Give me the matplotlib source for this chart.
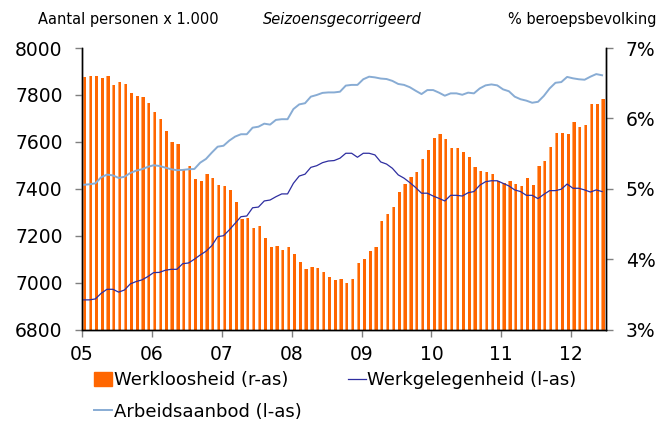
import numpy as np
import matplotlib
matplotlib.use("Agg")
import matplotlib.pyplot as plt
from matplotlib.patches import Patch
from matplotlib.lines import Line2D

# Monthly data, Jan 2005 - Jun 2012
year_labels = ['05', '06', '07', '08', '09', '10', '11', '12']

werkloosheid = [  # % beroepsbevolking (right axis)
    6.59, 6.60, 6.60, 6.58, 6.60, 6.48, 6.52, 6.49, 6.36, 6.32, 6.31, 6.22,
    6.09, 5.99, 5.82, 5.67, 5.64, 5.28, 5.32, 5.14, 5.11, 5.21, 5.16, 5.05,
    5.04, 4.99, 4.81, 4.57, 4.59, 4.44, 4.47, 4.30, 4.17, 4.19, 4.13, 4.17,
    4.08, 3.97, 3.87, 3.90, 3.88, 3.82, 3.75, 3.71, 3.72, 3.67, 3.72, 3.95,
    4.01, 4.12, 4.17, 4.55, 4.65, 4.74, 4.96, 5.07, 5.17, 5.24, 5.43, 5.56,
    5.73, 5.78, 5.71, 5.58, 5.58, 5.52, 5.46, 5.31, 5.26, 5.24, 5.21, 5.12,
    5.09, 5.12, 5.07, 5.04, 5.15, 5.05, 5.32, 5.40, 5.59, 5.79, 5.79, 5.78,
    5.95, 5.88, 5.91, 6.21, 6.20, 6.28,
]

werkgelegenheid = [  # x 1.000 personen (left axis)
    6928, 6928, 6932, 6956, 6973, 6973, 6961, 6970, 6996, 7006, 7013, 7027,
    7044, 7045, 7054, 7058, 7058, 7082, 7085, 7101, 7119, 7135, 7159, 7197,
    7201, 7226, 7254, 7282, 7285, 7320, 7323, 7349, 7353, 7367, 7379, 7379,
    7424, 7455, 7463, 7492, 7499, 7512, 7519, 7521, 7531, 7552, 7552, 7535,
    7552, 7552, 7545, 7515, 7506, 7488, 7460, 7446, 7427, 7406, 7382, 7382,
    7370, 7360, 7349, 7373, 7373, 7370, 7384, 7389, 7416, 7431, 7435, 7435,
    7424, 7413, 7396, 7389, 7373, 7373, 7359, 7377, 7393, 7393, 7399, 7421,
    7403, 7403, 7396, 7387, 7396, 7389,
]

arbeidsaanbod = [  # x 1.000 personen (left axis)
    7418, 7420, 7424, 7450, 7461, 7458, 7447, 7452, 7468, 7478, 7484, 7494,
    7501, 7498, 7491, 7484, 7480, 7481, 7484, 7485, 7512, 7528, 7555, 7580,
    7584, 7606, 7623, 7633, 7633, 7661, 7665, 7678, 7674, 7694, 7697, 7697,
    7740, 7760, 7765, 7793, 7800, 7809, 7811, 7811, 7814, 7840, 7843, 7843,
    7867, 7878, 7875, 7870, 7868, 7860, 7847, 7843, 7833, 7818, 7804, 7821,
    7821, 7810, 7797, 7807, 7807, 7801, 7810, 7807, 7828, 7841, 7845, 7841,
    7824, 7816, 7793, 7782, 7776, 7767, 7771, 7796, 7828, 7852, 7855, 7877,
    7871, 7867, 7865, 7878, 7889, 7884,
]

n = len(werkloosheid)
months = np.arange(n)

plt.rcParams['font.family'] = ['DejaVu Sans']

fig = plt.figure(figsize=(6.61, 4.23), dpi=100)
ax = fig.add_axes([0.124, 0.22, 0.793, 0.6665])
ax2 = ax.twinx()
ax.set_zorder(2)
ax2.set_zorder(1)
ax.patch.set_visible(False)

# Bars (right axis)
bar_col = '#FF6600'
ax2.bar(months + 0.48, np.array(werkloosheid) - 3, bottom=3, width=0.55,
        color=bar_col, linewidth=0, align='center')
ax2.bar(months + 0.26, np.array(werkloosheid) - 3, bottom=3, width=0.12,
        color='#FFA868', linewidth=0, align='center')
ax2.set_ylim(3, 7)
ax2.set_yticks([3, 4, 5, 6, 7])
ax2.set_yticklabels(['3%', '4%', '5%', '6%', '7%'])

# Lines (left axis)
dark = '#2E2EA0'
light = '#88ACD4'
ax.plot(months + 0.3, arbeidsaanbod, color=light, lw=1.4)
ax.plot(months + 0.3, werkgelegenheid, color=dark, lw=0.9)
ax.set_ylim(6800, 8000)
ax.set_yticks(range(6800, 8001, 200))
ax.set_xlim(0, n)
ax.set_xticks(np.arange(len(year_labels)) * 12)
ax.set_xticklabels(year_labels)

for a in (ax, ax2):
    a.spines['top'].set_visible(False)
    for s in ('left', 'right', 'bottom'):
        a.spines[s].set_color('black')
        a.spines[s].set_linewidth(1.0)
    a.tick_params(axis='both', colors='#808080', labelcolor='black',
                  labelsize=13.5, length=5, width=1, direction='out')
ax.tick_params(axis='y', pad=9)
ax.tick_params(axis='x', pad=6)
ax2.tick_params(axis='y', pad=9)

# Header texts
fig.text(0.057, 0.955, 'Aantal personen x 1.000', fontsize=10.5, ha='left', va='center')
fig.text(0.518, 0.955, 'Seizoensgecorrigeerd', fontsize=10.5, ha='center', va='center',
         style='italic')
fig.text(0.993, 0.955, '% beroepsbevolking', fontsize=10.5, ha='right', va='center')

# Legend
handles = [Patch(color=bar_col),
           Line2D([], [], color=light, lw=1.4),
           Line2D([], [], color=dark, lw=0.9)]
labels = ['Werkloosheid (r-as)', 'Arbeidsaanbod (l-as)', 'Werkgelegenheid (l-as)']
fig.legend(handles, labels, ncol=2, loc='upper left', bbox_to_anchor=(0.142, 0.122),
           frameon=False, fontsize=13, handlelength=1.0, handleheight=0.75,
           handletextpad=0.1, columnspacing=2.55, labelspacing=0.75,
           borderaxespad=0, borderpad=0)

fig.savefig('out.png', dpi=100)
